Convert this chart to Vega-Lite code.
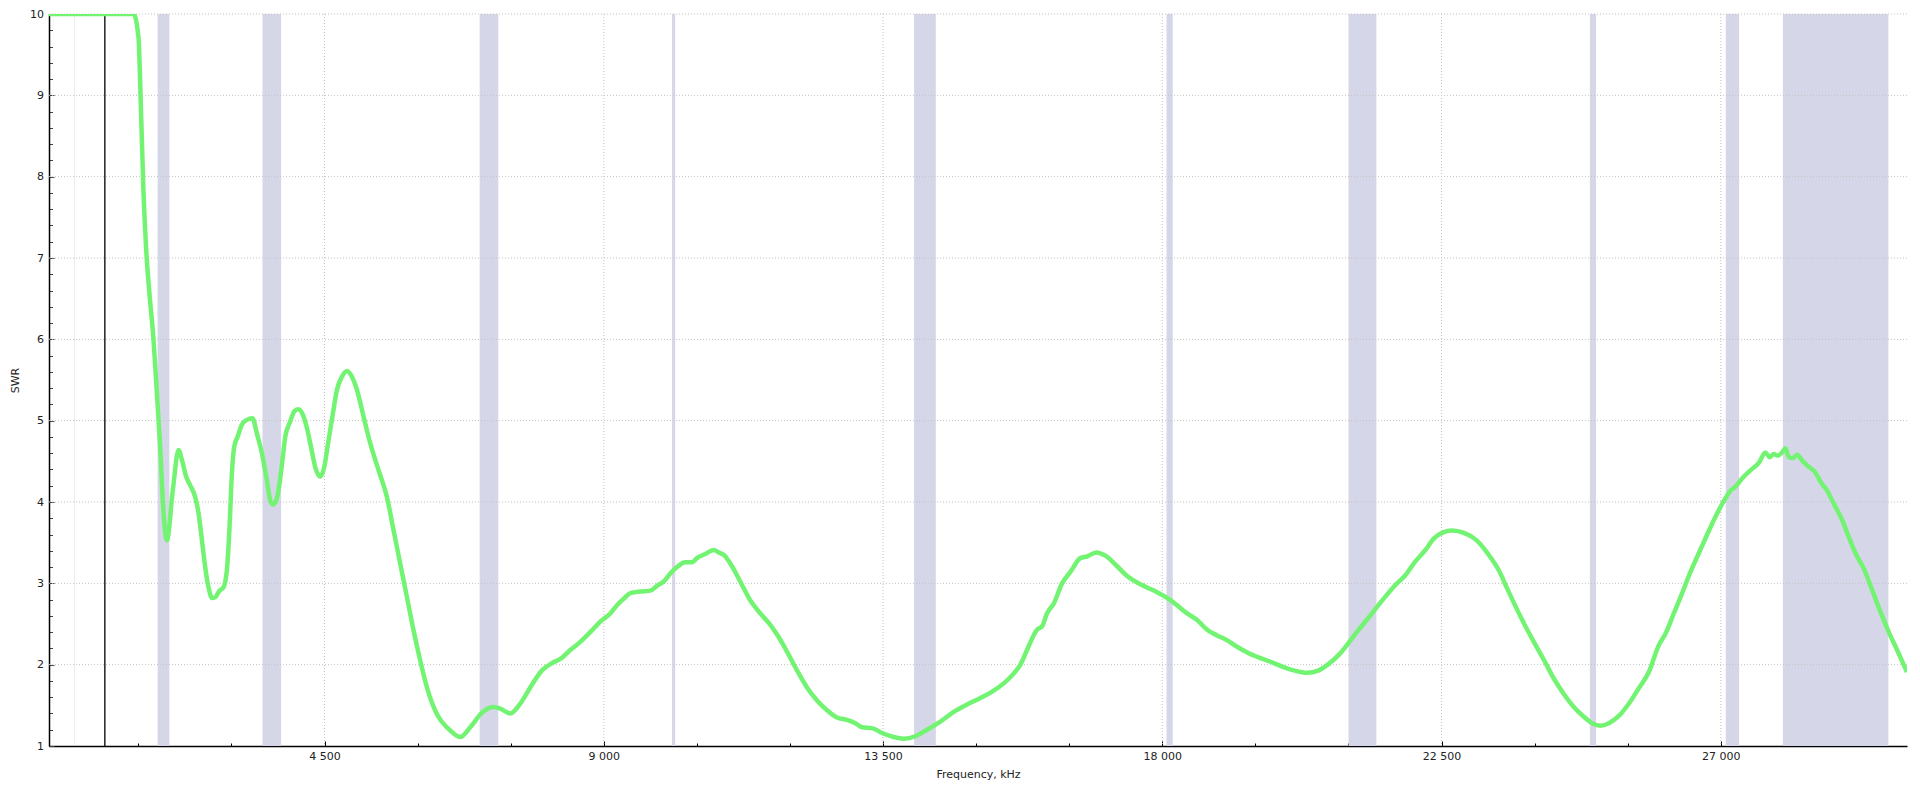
{
  "$schema": "https://vega.github.io/schema/vega-lite/v6.json",
  "width": 1858,
  "height": 732,
  "autosize": {"type": "none"},
  "padding": {"left": 49, "top": 14, "right": 13, "bottom": 43},
  "background": "white",
  "config": {
    "view": {"stroke": null},
    "font": "DejaVu Sans",
    "axis": {
      "labelFont": "DejaVu Sans",
      "titleFont": "DejaVu Sans",
      "labelFontSize": 11,
      "titleFontSize": 11,
      "titleFontWeight": "normal",
      "labelColor": "#222222",
      "titleColor": "#222222",
      "domainColor": "#000000",
      "domainWidth": 1.5,
      "tickColor": "#444444",
      "labelOverlap": false,
      "grid": false
    }
  },
  "datasets": {
    "swr": [
      {"f": 60, "swr": 10}, {"f": 1422, "swr": 10}, {"f": 1502, "swr": 9.71}, {"f": 1541, "swr": 8.85},
      {"f": 1583, "swr": 7.8}, {"f": 1626, "swr": 7.1}, {"f": 1680, "swr": 6.55}, {"f": 1744, "swr": 6.0},
      {"f": 1799, "swr": 5.33}, {"f": 1852, "swr": 4.67}, {"f": 1895, "swr": 4.0}, {"f": 1960, "swr": 3.53},
      {"f": 2056, "swr": 4.15}, {"f": 2147, "swr": 4.64}, {"f": 2201, "swr": 4.52}, {"f": 2271, "swr": 4.31},
      {"f": 2346, "swr": 4.19}, {"f": 2416, "swr": 4.06}, {"f": 2470, "swr": 3.86}, {"f": 2524, "swr": 3.53},
      {"f": 2577, "swr": 3.2}, {"f": 2631, "swr": 2.95}, {"f": 2685, "swr": 2.82}, {"f": 2738, "swr": 2.83},
      {"f": 2808, "swr": 2.91}, {"f": 2872, "swr": 2.95}, {"f": 2926, "swr": 3.16}, {"f": 2969, "swr": 3.69},
      {"f": 3007, "swr": 4.35}, {"f": 3045, "swr": 4.68}, {"f": 3098, "swr": 4.8}, {"f": 3168, "swr": 4.95},
      {"f": 3249, "swr": 5.01}, {"f": 3340, "swr": 5.03}, {"f": 3410, "swr": 4.84}, {"f": 3491, "swr": 4.6},
      {"f": 3571, "swr": 4.27}, {"f": 3625, "swr": 4.02}, {"f": 3668, "swr": 3.97}, {"f": 3722, "swr": 4.02},
      {"f": 3775, "swr": 4.23}, {"f": 3823, "swr": 4.52}, {"f": 3867, "swr": 4.8}, {"f": 3947, "swr": 4.99},
      {"f": 4017, "swr": 5.12}, {"f": 4081, "swr": 5.14}, {"f": 4152, "swr": 5.07}, {"f": 4216, "swr": 4.91},
      {"f": 4281, "swr": 4.68}, {"f": 4350, "swr": 4.43}, {"f": 4431, "swr": 4.31}, {"f": 4495, "swr": 4.43},
      {"f": 4565, "swr": 4.76}, {"f": 4635, "swr": 5.09}, {"f": 4700, "swr": 5.38}, {"f": 4780, "swr": 5.54},
      {"f": 4861, "swr": 5.61}, {"f": 4941, "swr": 5.54}, {"f": 5022, "swr": 5.38}, {"f": 5129, "swr": 5.05},
      {"f": 5237, "swr": 4.72}, {"f": 5371, "swr": 4.39}, {"f": 5506, "swr": 4.06}, {"f": 5613, "swr": 3.65},
      {"f": 5720, "swr": 3.24}, {"f": 5828, "swr": 2.83}, {"f": 5935, "swr": 2.42}, {"f": 6042, "swr": 2.05},
      {"f": 6150, "swr": 1.72}, {"f": 6311, "swr": 1.39}, {"f": 6499, "swr": 1.21}, {"f": 6687, "swr": 1.11},
      {"f": 6848, "swr": 1.23}, {"f": 7037, "swr": 1.41}, {"f": 7224, "swr": 1.48}, {"f": 7332, "swr": 1.46},
      {"f": 7493, "swr": 1.4}, {"f": 7654, "swr": 1.52}, {"f": 7815, "swr": 1.72}, {"f": 8004, "swr": 1.93},
      {"f": 8191, "swr": 2.03}, {"f": 8300, "swr": 2.07}, {"f": 8460, "swr": 2.18}, {"f": 8621, "swr": 2.28},
      {"f": 8782, "swr": 2.4}, {"f": 8944, "swr": 2.53}, {"f": 9105, "swr": 2.63}, {"f": 9212, "swr": 2.73},
      {"f": 9320, "swr": 2.81}, {"f": 9427, "swr": 2.88}, {"f": 9589, "swr": 2.9}, {"f": 9750, "swr": 2.91},
      {"f": 9857, "swr": 2.97}, {"f": 9964, "swr": 3.02}, {"f": 10072, "swr": 3.12}, {"f": 10179, "swr": 3.2},
      {"f": 10313, "swr": 3.26}, {"f": 10421, "swr": 3.26}, {"f": 10501, "swr": 3.31}, {"f": 10636, "swr": 3.36},
      {"f": 10770, "swr": 3.41}, {"f": 10851, "swr": 3.38}, {"f": 10931, "swr": 3.35}, {"f": 11066, "swr": 3.21},
      {"f": 11200, "swr": 3.02}, {"f": 11361, "swr": 2.79}, {"f": 11522, "swr": 2.63}, {"f": 11683, "swr": 2.49},
      {"f": 11818, "swr": 2.34}, {"f": 11952, "swr": 2.16}, {"f": 12113, "swr": 1.93}, {"f": 12275, "swr": 1.72},
      {"f": 12436, "swr": 1.56}, {"f": 12597, "swr": 1.44}, {"f": 12758, "swr": 1.35}, {"f": 12919, "swr": 1.32},
      {"f": 13054, "swr": 1.28}, {"f": 13161, "swr": 1.23}, {"f": 13323, "swr": 1.22}, {"f": 13484, "swr": 1.16},
      {"f": 13672, "swr": 1.11}, {"f": 13833, "swr": 1.09}, {"f": 14021, "swr": 1.12}, {"f": 14209, "swr": 1.2},
      {"f": 14424, "swr": 1.3}, {"f": 14639, "swr": 1.42}, {"f": 14854, "swr": 1.51}, {"f": 15069, "swr": 1.59},
      {"f": 15283, "swr": 1.68}, {"f": 15444, "swr": 1.77}, {"f": 15605, "swr": 1.89}, {"f": 15713, "swr": 2.0},
      {"f": 15820, "swr": 2.18}, {"f": 15981, "swr": 2.43}, {"f": 16062, "swr": 2.47}, {"f": 16142, "swr": 2.63},
      {"f": 16250, "swr": 2.75}, {"f": 16385, "swr": 3.0}, {"f": 16519, "swr": 3.14}, {"f": 16680, "swr": 3.31},
      {"f": 16787, "swr": 3.33}, {"f": 16937, "swr": 3.38}, {"f": 17083, "swr": 3.34}, {"f": 17271, "swr": 3.21},
      {"f": 17432, "swr": 3.09}, {"f": 17593, "swr": 3.01}, {"f": 17754, "swr": 2.95}, {"f": 17916, "swr": 2.89},
      {"f": 18077, "swr": 2.82}, {"f": 18238, "swr": 2.73}, {"f": 18400, "swr": 2.63}, {"f": 18561, "swr": 2.55},
      {"f": 18722, "swr": 2.43}, {"f": 18883, "swr": 2.36}, {"f": 19044, "swr": 2.3}, {"f": 19205, "swr": 2.22},
      {"f": 19393, "swr": 2.14}, {"f": 19581, "swr": 2.08}, {"f": 19796, "swr": 2.02}, {"f": 19957, "swr": 1.97},
      {"f": 20118, "swr": 1.93}, {"f": 20333, "swr": 1.9}, {"f": 20520, "swr": 1.93}, {"f": 20682, "swr": 2.01},
      {"f": 20843, "swr": 2.12}, {"f": 21004, "swr": 2.27}, {"f": 21165, "swr": 2.43}, {"f": 21326, "swr": 2.58},
      {"f": 21460, "swr": 2.71}, {"f": 21597, "swr": 2.84}, {"f": 21756, "swr": 2.98}, {"f": 21917, "swr": 3.1},
      {"f": 22078, "swr": 3.27}, {"f": 22239, "swr": 3.41}, {"f": 22374, "swr": 3.55}, {"f": 22535, "swr": 3.63},
      {"f": 22671, "swr": 3.65}, {"f": 22859, "swr": 3.62}, {"f": 23047, "swr": 3.54}, {"f": 23181, "swr": 3.43},
      {"f": 23316, "swr": 3.29}, {"f": 23423, "swr": 3.16}, {"f": 23531, "swr": 2.98}, {"f": 23665, "swr": 2.76},
      {"f": 23826, "swr": 2.51}, {"f": 23987, "swr": 2.28}, {"f": 24148, "swr": 2.06}, {"f": 24309, "swr": 1.83},
      {"f": 24470, "swr": 1.64}, {"f": 24631, "swr": 1.48}, {"f": 24792, "swr": 1.36}, {"f": 24926, "swr": 1.28},
      {"f": 25061, "swr": 1.25}, {"f": 25195, "swr": 1.28}, {"f": 25356, "swr": 1.37}, {"f": 25517, "swr": 1.52},
      {"f": 25679, "swr": 1.71}, {"f": 25840, "swr": 1.91}, {"f": 26001, "swr": 2.24}, {"f": 26108, "swr": 2.38},
      {"f": 26242, "swr": 2.63}, {"f": 26377, "swr": 2.88}, {"f": 26511, "swr": 3.14}, {"f": 26645, "swr": 3.37},
      {"f": 26780, "swr": 3.6}, {"f": 26914, "swr": 3.82}, {"f": 27048, "swr": 4.01}, {"f": 27156, "swr": 4.14},
      {"f": 27236, "swr": 4.19}, {"f": 27343, "swr": 4.29}, {"f": 27478, "swr": 4.39}, {"f": 27612, "swr": 4.48},
      {"f": 27719, "swr": 4.61}, {"f": 27789, "swr": 4.55}, {"f": 27853, "swr": 4.59}, {"f": 27918, "swr": 4.57},
      {"f": 27988, "swr": 4.61}, {"f": 28041, "swr": 4.66}, {"f": 28095, "swr": 4.55}, {"f": 28165, "swr": 4.54},
      {"f": 28230, "swr": 4.58}, {"f": 28310, "swr": 4.51}, {"f": 28391, "swr": 4.45}, {"f": 28525, "swr": 4.36},
      {"f": 28606, "swr": 4.25}, {"f": 28713, "swr": 4.14}, {"f": 28820, "swr": 3.98}, {"f": 28954, "swr": 3.78},
      {"f": 29062, "swr": 3.57}, {"f": 29170, "swr": 3.37}, {"f": 29304, "swr": 3.18}, {"f": 29438, "swr": 2.92},
      {"f": 29573, "swr": 2.65}, {"f": 29707, "swr": 2.4}, {"f": 29841, "swr": 2.18}, {"f": 30000, "swr": 1.91}
    ],
    "bands": [
      {"start": 135.7, "end": 137.8}, {"start": 472, "end": 479}, {"start": 1810, "end": 2000},
      {"start": 3500, "end": 3800}, {"start": 7000, "end": 7300}, {"start": 10100, "end": 10150},
      {"start": 14000, "end": 14350}, {"start": 18068, "end": 18168}, {"start": 21000, "end": 21450},
      {"start": 24890, "end": 24990}, {"start": 27080, "end": 27295}, {"start": 28000, "end": 29700}
    ],
    "xgrid": [{"g": 4500}, {"g": 9000}, {"g": 13500}, {"g": 18000}, {"g": 22500}, {"g": 27000}],
    "ygrid": [{"g": 2}, {"g": 3}, {"g": 4}, {"g": 5}, {"g": 6}, {"g": 7}, {"g": 8}, {"g": 9}, {"g": 10}],
    "marker": [{"f": 960}]
  },
  "layer": [
    {
      "data": {"name": "bands"},
      "mark": {"type": "rect", "color": "#D5D6E8"},
      "encoding": {
        "x": {
          "field": "start", "type": "quantitative",
          "scale": {"domain": [60, 30000], "nice": false, "zero": false},
          "axis": {
            "orient": "bottom",
            "values": [1500, 3000, 4500, 6000, 7500, 9000, 10500, 12000, 13500, 15000, 16500, 18000, 19500, 21000, 22500, 24000, 25500, 27000, 28500],
            "tickCount": 200,
            "labelExpr": "datum.value % 4500 === 0 ? replace(format(datum.value, ','), ',', ' ') : ''",
            "labelOverlap": false,
            "tickSize": {"condition": {"test": "datum.value % 4500 === 0", "value": -5}, "value": -3},
            "tickColor": "#000000", "labelPadding": 9,
            "title": "Frequency, kHz", "titlePadding": 5
          }
        },
        "x2": {"field": "end"},
        "y": {
          "datum": 10, "type": "quantitative",
          "scale": {"domain": [1, 10], "nice": false, "zero": false},
          "axis": {
            "orient": "left",
            "values": [1, 1.2, 1.4, 1.6, 1.8, 2, 2.2, 2.4, 2.6, 2.8, 3, 3.2, 3.4, 3.6, 3.8, 4, 4.2, 4.4, 4.6, 4.8, 5, 5.2, 5.4, 5.6, 5.8, 6, 6.2, 6.4, 6.6, 6.8, 7, 7.2, 7.4, 7.6, 7.8, 8, 8.2, 8.4, 8.6, 8.8, 9, 9.2, 9.4, 9.6, 9.8, 10],
            "tickCount": 200,
            "labelExpr": "abs(datum.value - round(datum.value)) < 0.01 ? format(datum.value, 'd') : ''",
            "labelOverlap": false,
            "tickSize": {"condition": {"test": "abs(datum.value - round(datum.value)) < 0.01", "value": -5}, "value": -3.5},
            "labelPadding": 10.5,
            "title": "SWR", "titlePadding": 9.5
          }
        },
        "y2": {"datum": 1}
      }
    },
    {
      "data": {"name": "xgrid"},
      "mark": {"type": "rule", "color": "#c2c2c2", "strokeDash": [1, 2], "strokeWidth": 1},
      "encoding": {
        "x": {"field": "g", "type": "quantitative"}
      }
    },
    {
      "data": {"name": "ygrid"},
      "mark": {"type": "rule", "color": "#c2c2c2", "strokeDash": [1, 2], "strokeWidth": 1},
      "encoding": {
        "y": {"field": "g", "type": "quantitative"}
      }
    },
    {
      "data": {"name": "marker"},
      "mark": {"type": "rule", "color": "#000000", "strokeWidth": 1.3},
      "encoding": {
        "x": {"field": "f", "type": "quantitative"}
      }
    },
    {
      "data": {"name": "swr"},
      "mark": {"type": "line", "color": "#72F472", "strokeWidth": 4.5, "interpolate": "monotone", "clip": true},
      "encoding": {
        "x": {"field": "f", "type": "quantitative"},
        "y": {"field": "swr", "type": "quantitative"}
      }
    }
  ]
}
